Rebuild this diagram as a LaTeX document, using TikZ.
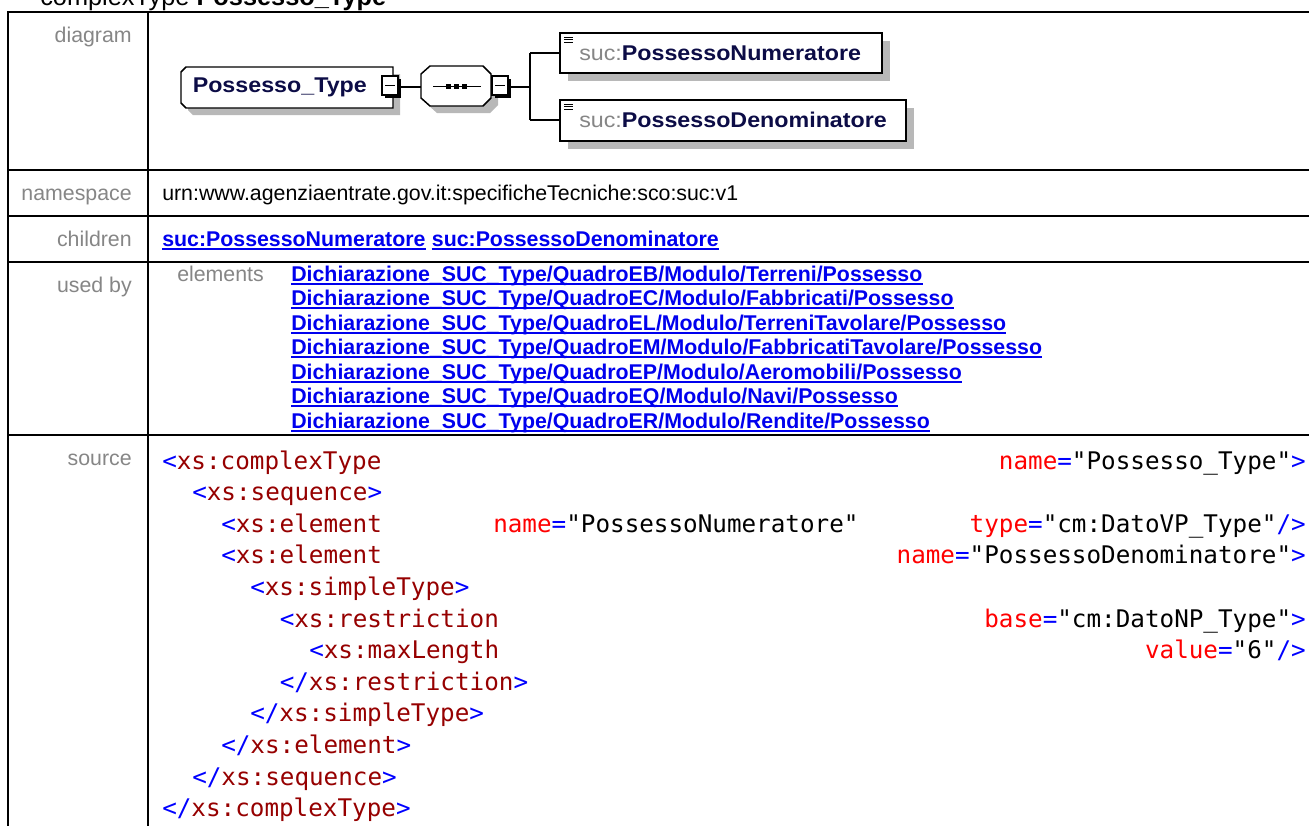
\documentclass[tikz,border=0pt]{standalone}
\usepackage{fontspec}
\usepackage{graphicx}
\setmainfont{Liberation Sans}
\newfontfamily\codefont{DejaVu Sans Mono}
\definecolor{lblgray}{RGB}{134,134,134}
\definecolor{shadowgray}{RGB}{184,184,184}
\definecolor{dnavy}{RGB}{12,12,70}
\definecolor{linkblue}{RGB}{0,0,238}
\definecolor{xblue}{RGB}{0,0,255}
\definecolor{xmaroon}{RGB}{150,0,0}
\definecolor{xred}{RGB}{255,0,0}
\newcommand\xb[1]{\textcolor{xblue}{#1}}
\newcommand\xm[1]{\textcolor{xmaroon}{#1}}
\newcommand\xr[1]{\textcolor{xred}{#1}}
\newcommand\dtxt[1]{\scalebox{1.09}[1]{#1}}
\tikzset{
  tblline/.style={line width=1.5pt, black},
  shapebox/.style={draw=black, line width=1.1pt, fill=white},
  shadowbox/.style={fill=shadowgray, draw=none},
  conn/.style={line width=1.1pt, black},
  lbl/.style={anchor=base east, inner sep=0, text=lblgray, font=\fontsize{16pt}{19pt}\selectfont},
  val/.style={anchor=base west, inner sep=0, text=black, font=\fontsize{16pt}{19pt}\selectfont},
  lnk/.style={anchor=base west, inner sep=0, text=linkblue, font=\bfseries\fontsize{16pt}{19pt}\selectfont},
  ul/.style={line width=1.5pt, linkblue},
  codetxt/.style={anchor=base west, inner sep=0, font=\codefont\fontsize{18.2pt}{22pt}\selectfont},
  codeR/.style={codetxt, anchor=base east},
  dtext/.style={anchor=base west, inner sep=0, font=\fontsize{16pt}{19pt}\selectfont},
}
\begin{document}
\begin{tikzpicture}[x=0.75pt,y=-0.75pt]
\useasboundingbox (0,0) rectangle (1309,825);
\fill[white] (0,0) rectangle (1309,825);

% title
\node[anchor=base west, inner sep=0, font=\fontsize{19pt}{22pt}\selectfont] (title) at (40,5.5) {complexType \textbf{Possesso\_Type}};

% table lines
\draw[tblline] (8,12) -- (1309,12);
\draw[tblline] (8,170) -- (1309,170);
\draw[tblline] (8,216) -- (1309,216);
\draw[tblline] (8,262) -- (1309,262);
\draw[tblline] (8,435) -- (1309,435);
\draw[tblline] (8,11.2) -- (8,830);
\draw[tblline] (148,11.2) -- (148,830);

% labels
\node[lbl] (ldiag) at (132,42.5) {diagram};
\node[lbl] (lns) at (132,200) {namespace};
\node[lbl] (lch) at (132,246) {children};
\node[lbl] (luse) at (132,292) {used by};
\node[lbl] (lsrc) at (132,465.5) {source};
\node[lbl, anchor=base west] (lel) at (177,281) {elements};

% namespace value
\node[val] (ns) at (162,200) {urn:www.agenziaentrate.gov.it:specificheTecniche:sco:suc:v1};

% children links
\node[lnk] (ch1) at (162,246) {suc:PossessoNumeratore};
\node[lnk, anchor=base west] (ch2) at ([xshift=4.4pt]ch1.base east) {suc:PossessoDenominatore};
\foreach \n in {ch1,ch2} \draw[ul] ([yshift=-1.9pt]\n.base west) -- ([yshift=-1.9pt]\n.base east);

% used by links
\node[lnk] (u1) at (291,281) {Dichiarazione\_SUC\_Type/QuadroEB/Modulo/Terreni/Possesso};
\node[lnk] (u2) at (291,305.5) {Dichiarazione\_SUC\_Type/QuadroEC/Modulo/Fabbricati/Possesso};
\node[lnk] (u3) at (291,330) {Dichiarazione\_SUC\_Type/QuadroEL/Modulo/TerreniTavolare/Possesso};
\node[lnk] (u4) at (291,354.5) {Dichiarazione\_SUC\_Type/QuadroEM/Modulo/FabbricatiTavolare/Possesso};
\node[lnk] (u5) at (291,379) {Dichiarazione\_SUC\_Type/QuadroEP/Modulo/Aeromobili/Possesso};
\node[lnk] (u6) at (291,403.5) {Dichiarazione\_SUC\_Type/QuadroEQ/Modulo/Navi/Possesso};
\node[lnk] (u7) at (291,428) {Dichiarazione\_SUC\_Type/QuadroER/Modulo/Rendite/Possesso};
\foreach \n in {u1,u2,u3,u4,u5,u6,u7} \draw[ul] ([yshift=-1.9pt]\n.base west) -- ([yshift=-1.9pt]\n.base east);

% source code
\node[codetxt] (c1) at (162,469) {\xb{<}\xm{xs:complexType}};
\node[codeR] (c1r) at (1306,469) {\xr{name}\xb{=}"Possesso\_Type"\xb{>}};
\node[codetxt] (c2) at (192,500.6) {\xb{<}\xm{xs:sequence}\xb{>}};
\node[codetxt] (c3) at (221,532.2) {\xb{<}\xm{xs:element}};
\node[codetxt] (c3m) at (493,532.2) {\xr{name}\xb{=}"PossessoNumeratore"};
\node[codeR] (c3r) at (1306,532.2) {\xr{type}\xb{=}"cm:DatoVP\_Type"\xb{/>}};
\node[codetxt] (c4) at (221,563.8) {\xb{<}\xm{xs:element}};
\node[codeR] (c4r) at (1306,563.8) {\xr{name}\xb{=}"PossessoDenominatore"\xb{>}};
\node[codetxt] (c5) at (250,595.4) {\xb{<}\xm{xs:simpleType}\xb{>}};
\node[codetxt] (c6) at (279.5,627) {\xb{<}\xm{xs:restriction}};
\node[codeR] (c6r) at (1306,627) {\xr{base}\xb{=}"cm:DatoNP\_Type"\xb{>}};
\node[codetxt] (c7) at (309,658.6) {\xb{<}\xm{xs:maxLength}};
\node[codeR] (c7r) at (1306,658.6) {\xr{value}\xb{=}"6"\xb{/>}};
\node[codetxt] (c8) at (279.5,690.2) {\xb{</}\xm{xs:restriction}\xb{>}};
\node[codetxt] (c9) at (250,721.8) {\xb{</}\xm{xs:simpleType}\xb{>}};
\node[codetxt] (c10) at (221,753.4) {\xb{</}\xm{xs:element}\xb{>}};
\node[codetxt] (c11) at (192,785) {\xb{</}\xm{xs:sequence}\xb{>}};
\node[codetxt] (c12) at (162,816.6) {\xb{</}\xm{xs:complexType}\xb{>}};

% ---------- diagram ----------
% Possesso_Type box
\fill[shadowbox] (193,74) -- (400,74) -- (400,115) -- (193,115) -- (188,110) -- (188,79) -- cycle;
\draw[shapebox] (186,67) -- (393,67) -- (393,108) -- (186,108) -- (181,103) -- (181,72) -- cycle;
\node[dtext, text=dnavy] (ptname) at (192.5,92.7) {\dtxt{\textbf{Possesso\_Type}}};
% collapse square 1
\fill[black] (385,79) rectangle (401,98);
\draw[shapebox] (382,76) rectangle (398,95);
\draw[line width=1.1pt] (385,85.5) -- (395,85.5);
\coordinate (sq1) at (401,87);

% sequence compositor
\fill[shadowbox] (437,73) -- (490,73) -- (498,81) -- (498,105) -- (490,113) -- (437,113) -- (428,105) -- (428,81) -- cycle;
\draw[shapebox] (430,66) -- (483,66) -- (491,74) -- (491,98) -- (483,106) -- (430,106) -- (421,98) -- (421,74) -- cycle;
\coordinate (seqL) at (421,87);
\draw[line width=1.1pt] (433,86.5) -- (481,86.5);
\foreach \cx in {448.5,456.5,464.5} \fill[black] (\cx-2.8,84) rectangle (\cx+2.8,89);
% collapse square 2
\fill[black] (495,79) rectangle (511,98);
\draw[shapebox] (492,76) rectangle (508,95);
\draw[line width=1.1pt] (495,85.5) -- (505,85.5);
\coordinate (sq2) at (511,87);

% connectors
\coordinate (fork) at (530,87);
\coordinate (forkT) at (530,53);
\coordinate (forkB) at (530,120);
\coordinate (e1L) at (560,53);
\coordinate (e2L) at (560,120);
\draw[conn] (sq1) -- (seqL);
\draw[conn] (sq2) -- (fork);
\draw[conn] (forkT) -- (forkB);
\draw[conn] (forkT) -- (e1L);
\draw[conn] (forkB) -- (e2L);

% element boxes
\fill[shadowbox] (568,41) rectangle (890,81);
\draw[shapebox] (560,33) rectangle (882,73);
\fill[shadowbox] (568,108) rectangle (914,149);
\draw[shapebox] (560,100) rectangle (906,141);
\foreach \yy in {0,67} {
  \foreach \ly in {37,39.5,42} \draw[line width=0.75pt] (564,\ly+\yy) -- (573,\ly+\yy);
}
\node[dtext] (e1) at (579,60.7) {\dtxt{\textcolor{lblgray}{suc:}\textcolor{dnavy}{\textbf{PossessoNumeratore}}}};
\node[dtext] (e2) at (579,127.3) {\dtxt{\textcolor{lblgray}{suc:}\textcolor{dnavy}{\textbf{PossessoDenominatore}}}};
\end{tikzpicture}
\end{document}
